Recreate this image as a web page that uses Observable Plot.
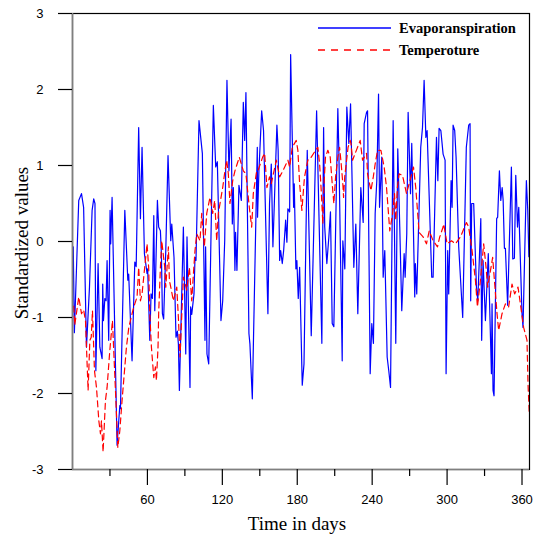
<!DOCTYPE html>
<html><head><meta charset="utf-8">
<script src="https://cdn.jsdelivr.net/npm/d3@7"></script>
<script src="https://cdn.jsdelivr.net/npm/@observablehq/plot@0.6"></script>
<style>body{margin:0;background:#fff} svg{display:block}</style>
</head><body><div id="chart"></div>
<script>
const evapDays = [0.6,1.5,5,7.2,8.9,11.2,13.6,15.7,17,18,18.7,20.5,21.9,23.7,24.2,24.8,25.9,26.9,27.7,29,30.1,30.6,31.7,35.7,37.9,38.4,41.9,44.3,45,47.7,49.9,51,53,54.4,55.7,57.6,59.7,60.2,61.9,62.9,64,65.1,65.9,68,69,70.4,71.2,72,73,74.7,76.5,78.7,79.5,81.3,82.9,84,84.8,85.6,88.8,90.7,91.7,94.1,94.6,95.5,97.3,98.1,98.9,101.3,104,106.1,106.6,107.7,109.1,112.8,114.7,116,118.9,120.3,121.9,123.7,125.3,127,128,128.8,130.1,130.6,131.7,133.3,135.2,136.8,137.9,138.9,141.3,142.1,144,148,148.2,149.3,151.5,153,156.5,157.8,159.2,160.5,163.7,164.7,165.9,166.7,168,169.1,170.7,171.7,172.5,173.9,174.7,177.1,177.6,178.9,179.7,180.8,181.9,184,185.4,188,191.2,195.5,199.7,201.1,202,203.7,205.3,206.6,208,209.3,212.5,213.3,216,216.5,218.1,219.7,221.3,222.7,225.3,226.9,228.5,230.9,232.8,233.6,235.5,236.3,238.4,239.7,241,242.4,243.7,245.1,245.9,247.7,248.8,250.1,252,253.3,254.7,256.8,258.9,260.5,262.1,263.7,265.6,266.4,267.7,268.8,270.7,271.7,274.1,274.6,275.7,278.9,280.3,281.6,283,284,287.7,288.8,291.5,292.6,293.6,295,296.8,298.4,299.2,300.5,301.3,303.2,304,304.8,306.1,307.2,309.3,312.5,315.4,317.3,318.4,318.9,319.7,321.3,323.5,324.6,327,327.7,328.8,330.7,333,335.5,336,336.8,337.6,339.7,340.5,341.9,343,344.1,344.9,345.9,346.7,348.5,351.5,352.6,353.9,355,356.4,357.4,360,360.8,363.5,364.6,365.5];
const evapValues = [-0.07,-1.2,0.54,0.63,0.45,-1.39,-0.6,0.41,0.56,0.5,-1.7,-0.29,-1.39,-1.54,-0.56,-1.04,-0.75,-0.78,-0.25,-1.3,0.41,-0.03,0.58,-2.68,-2.16,-2.2,0.41,-0.51,-0.43,-1.57,-0.27,-0.33,1.5,0.3,1.24,-0.16,-0.42,-0.36,-1.3,-0.69,-0.75,0.34,-0.91,0.54,0.19,0.14,-0.16,-0.95,-1.02,-0.12,1.13,0.01,0.23,-0.21,-1.26,-1.18,-1.35,-1.96,0.19,-1.48,0.06,-1.92,-0.86,-0.96,-0.69,-0.21,-0.25,1.59,1.16,-1.3,-0.07,-1.48,-1.61,1.79,0.98,1.05,-1.04,-0.78,0.01,2.12,0.93,1.61,0.23,0.71,-0.38,0.12,-0.38,0.74,0.54,1.83,1.33,1.96,-1.21,-1.35,-2.07,1.24,0.32,0.93,1.72,1.46,-0.95,0.5,1.02,-0.07,1.53,1.2,-0.25,-0.12,-0.29,-0.12,0.28,-0.01,0.43,0.39,2.46,0.45,0.76,-0.36,-0.25,-0.75,-0.34,-1.89,-1.61,1.2,-1.24,1.72,-1.34,1.5,0.19,-0.29,0.06,0.39,-1.08,-1.12,1.75,1.2,-1.57,0.01,-0.36,1.77,1.29,1.81,-0.34,0.23,-0.95,0.71,0.25,1.55,1.7,1.72,-1.74,-1.08,-1.34,0.37,0.8,1.94,0.45,1.11,-0.47,-0.12,-1.52,-1.7,-1.92,1.59,-1.34,1.22,0.19,-0.91,-0.16,-0.47,0.1,1.7,0.63,1.29,-0.73,-0.29,-0.69,1.24,1.5,2.12,1.37,1.46,-0.47,-0.47,1.37,0.8,1.49,1.46,1.15,1.07,-1.74,-0.12,-0.69,0.8,0.45,1.53,1.46,1.11,-0.07,-1.0,1.24,1.53,1.55,-0.78,0.5,0.5,-0.6,-0.78,0.3,-1.3,-0.25,-1.04,-0.16,-1.74,-0.82,-1.96,-2.03,0.3,0.32,0.93,0.54,0.71,0.54,-0.09,-0.09,-0.84,0.98,-0.23,-0.22,0.87,0.19,0.45,-0.95,-1.13,0.8,0.41,-0.2];

const tempDays = [1,1.8,5,7.2,8.9,10.4,12.5,13.9,15,16,17.6,19.2,21.1,22.4,23.2,24.5,26.4,27.7,29.9,32,34.4,36.3,37.9,39.7,43.2,45.1,47.7,49.1,51.7,53,54.4,55.7,59.7,61,61.9,63.2,65.1,66.4,67.2,68.5,69,70.4,71.5,72.6,73.9,74.7,76.8,77.6,78.7,80.8,83.5,84.8,86.1,88.8,91.5,93.6,95.5,96.8,98.1,99.5,102.1,103.5,105.6,107.5,110.1,112.3,113.9,115.5,116.8,120.3,122.1,123.5,124.8,126.1,128.3,130.1,133.6,136.8,138.9,141.6,143.5,144.8,147.5,148.5,152.3,153.9,155.7,157.8,159.2,163.2,165.9,168.5,172.5,173.9,176,179.2,180.5,181.9,183.7,185.8,188.5,191.2,194.7,196.5,197.9,199.2,200.5,201.3,202.6,204.5,206.4,208,209.3,210.7,212.5,213.9,215.2,216.5,217.1,218,220.7,222.4,223,224.3,230.4,232.3,235.5,236.3,239,240.9,242.4,244.3,247,249.6,251.5,253.1,254.1,256.3,257.9,258.9,260.2,261.6,264.3,267.5,269.6,273.1,274.9,276.5,277.6,280.8,283.5,285.7,288.8,292.3,294.1,296.8,297.3,300,303.5,306.7,310.7,315.5,317.3,320,322.7,324.3,326.7,329.3,331.2,332.5,336.5,337.9,340,341.3,344,346.7,349.3,352,354.1,356.8,358.7,361.3,364,364.8,365.8];
const tempValues = [-0.85,-1.1,-0.73,-0.95,-0.9,-1.04,-1.96,-1.3,-1.26,-0.91,-1.7,-1.92,-2.36,-2.53,-2.36,-2.77,-2.09,-1.92,-1.43,-1.04,-1.96,-2.71,-2.49,-2.09,-1.39,-1.13,-0.95,-0.86,-0.73,-0.34,-0.78,-0.69,-0.03,-0.34,-0.95,-1.39,-1.79,-1.65,-1.83,-1.39,-0.95,-0.34,0.01,-0.16,-0.34,-0.6,-0.07,-0.51,-0.6,-0.78,-0.6,-1.0,-1.52,-0.47,-0.64,-0.34,-0.78,-0.43,-0.12,0.1,0.01,0.37,-0.07,0.37,0.58,0.37,0.54,0.01,0.37,0.71,0.93,1.07,0.89,0.5,0.8,0.93,1.11,0.93,0.89,0.45,0.19,0.63,0.93,0.93,1.11,1.16,0.71,0.85,0.76,1.07,0.85,0.93,1.07,0.98,1.24,1.33,1.2,0.76,0.41,0.85,1.07,1.11,1.2,1.24,1.02,0.67,0.23,0.71,1.11,1.2,1.11,0.76,0.5,0.85,1.11,1.24,1.02,0.76,0.58,0.85,1.24,1.33,1.29,1.07,1.33,1.07,1.16,0.89,0.67,0.85,1.02,1.2,1.2,0.98,0.71,0.36,0.14,0.36,0.63,0.28,0.71,0.89,0.87,0.63,0.76,0.98,0.71,0.36,0.12,0.06,-0.03,0.14,0.01,-0.07,0.06,0.19,0.23,-0.03,0.01,-0.03,0.06,0.25,0.19,-0.12,-0.51,-0.86,-0.51,-0.03,-0.34,-0.6,-0.21,-0.51,-0.95,-1.17,-0.95,-0.82,-0.86,-0.56,-0.69,-0.6,-0.82,-1.13,-1.3,-1.87,-2.26];

const yTicks = [-3,-2,-1,0,1,2,3];
const xMajorTicks = [60,120,180,240,300,360];
const xMinorTicks = [30,90,150,210,270,330];
const seriesNames = ["Evaporanspiration","Temperoture"];
const seriesColors = ["#0000ff","#ff0000"];
const xTitle = "Time in days";
const yTitle = "Standardized values";

const evap = evapDays.map((d,i)=>({day:d, value:evapValues[i]}));
const temp = tempDays.map((d,i)=>({day:d, value:tempValues[i]}));

const chart = Plot.plot({
  width: 534, height: 542,
  marginLeft: 72, marginRight: 5, marginTop: 13, marginBottom: 73,
  x: {domain: [0, 366]},
  y: {domain: [-3, 3]},
  style: {fontFamily: "'Liberation Sans', Arial, sans-serif", fontSize: "13px", background: "white", color: "#000"},
  marks: [
    Plot.line(evap, {x: "day", y: "value", stroke: seriesColors[0], strokeWidth: 1.2}),
    Plot.line(temp, {x: "day", y: "value", stroke: seriesColors[1], strokeWidth: 1.2, strokeDasharray: "6,4"}),
    Plot.frame({stroke: "#000", strokeWidth: 1.2}),
    Plot.ruleX([0], {stroke: "#7f7f7f", strokeWidth: 1.6}),
    Plot.ruleY([-3], {stroke: "#7f7f7f", strokeWidth: 1.6}),
    Plot.axisY(yTicks, {tickSize: 14, tickPadding: 15, label: null, tickFormat: d => String(d), stroke: "#000", strokeOpacity: 1, strokeWidth: 1.2}),
    Plot.axisX(xMajorTicks, {tickSize: 16, tickPadding: 9, label: null, tickFormat: d => String(d), strokeOpacity: 1, strokeWidth: 1.2}),
    Plot.axisX(xMinorTicks, {tickSize: 7, text: null, label: null, strokeOpacity: 1, strokeWidth: 1.2})
  ]
});
document.getElementById("chart").appendChild(chart);

const svg = d3.select(chart);
const serif = "'Liberation Serif', 'Times New Roman', serif";
svg.append("text").attr("x", 297).attr("y", 530).attr("text-anchor", "middle")
  .attr("font-family", serif).attr("font-size", 19).attr("fill", "#000").text(xTitle);
svg.append("text").attr("transform", "translate(28,243) rotate(-90)").attr("text-anchor", "middle")
  .attr("font-family", serif).attr("font-size", 19).attr("fill", "#000").text(yTitle);

const legend = svg.append("g");
seriesNames.forEach((name, i) => {
  const y = 28 + i * 22;
  legend.append("line").attr("x1", 318).attr("x2", 391).attr("y1", y).attr("y2", y)
    .style("stroke", seriesColors[i]).style("stroke-width", "1.3px")
    .style("stroke-dasharray", i === 1 ? "7,6" : "none");
  legend.append("text").attr("x", 399).attr("y", y + 5).attr("text-anchor", "start")
    .attr("font-family", serif).attr("font-size", 14.5).attr("font-weight", "bold")
    .attr("fill", "#000").text(name);
});
</script>
</body></html>
